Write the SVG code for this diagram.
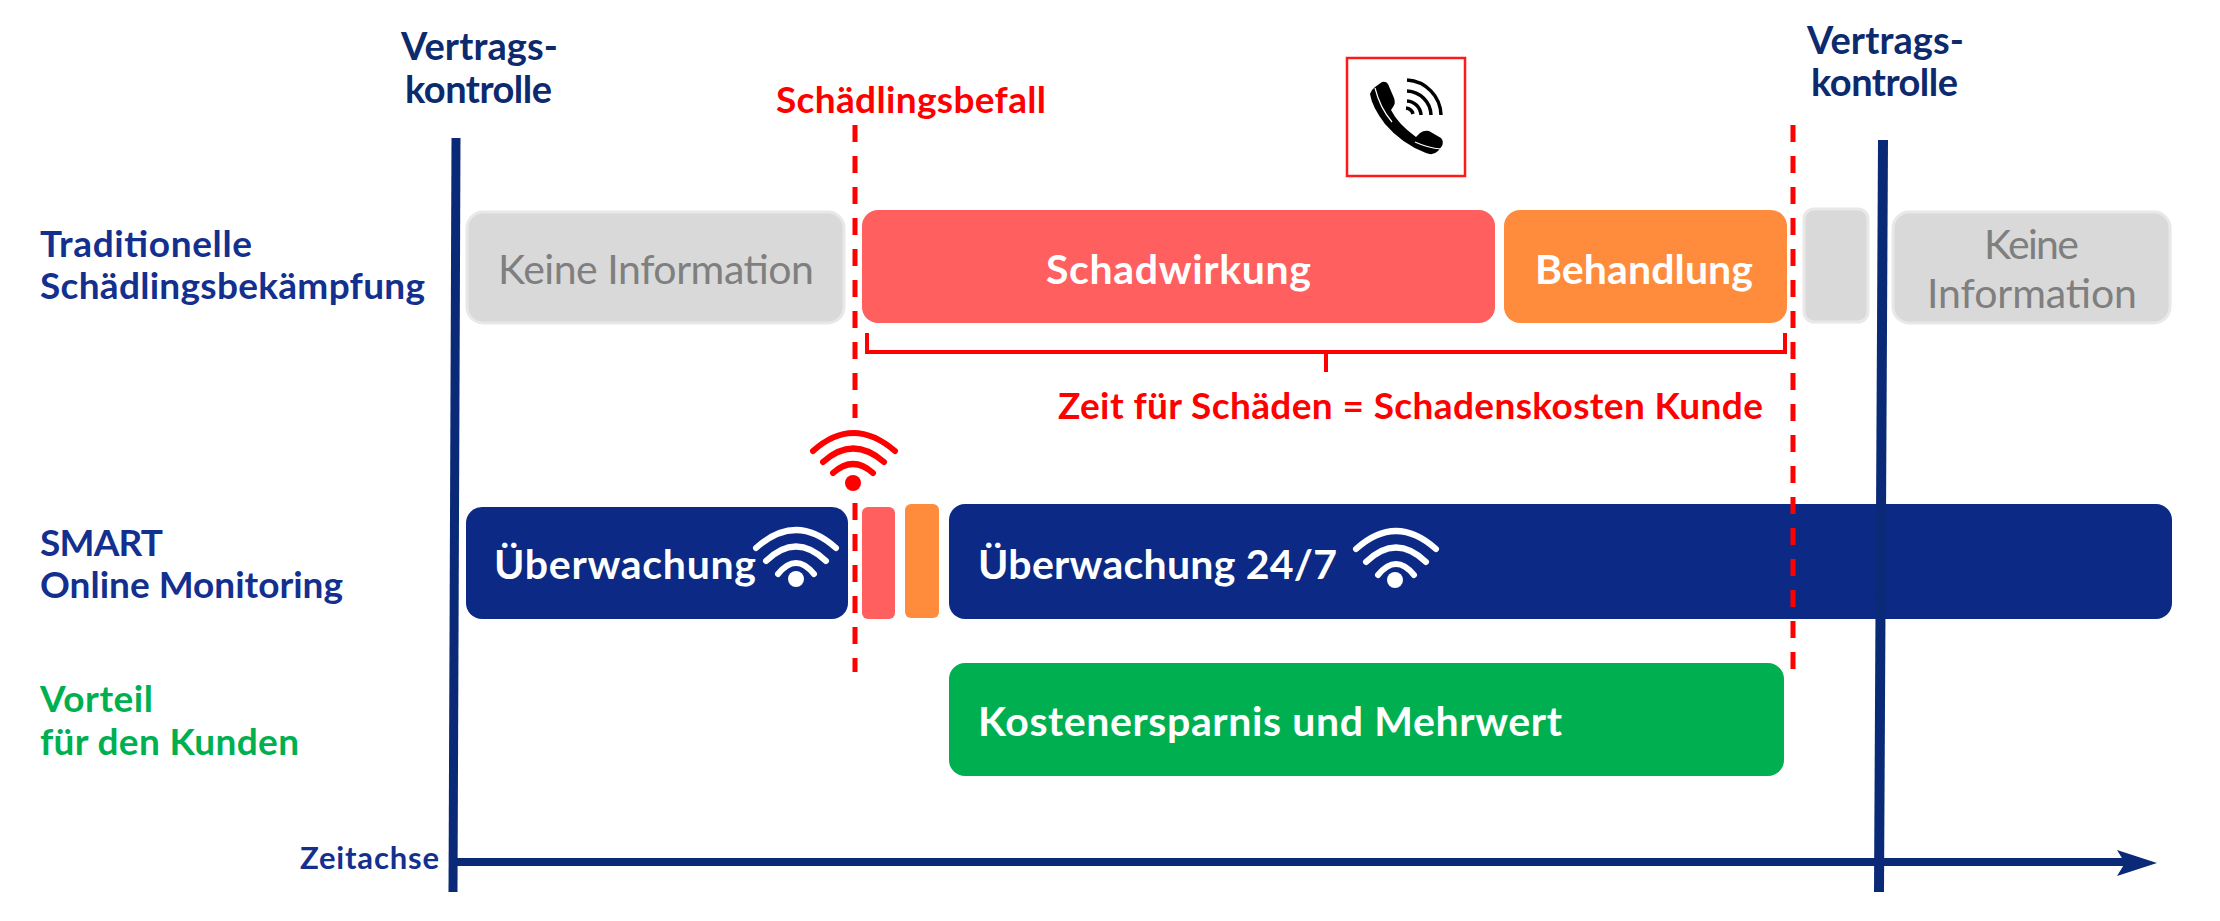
<svg xmlns="http://www.w3.org/2000/svg" width="2220" height="921" viewBox="0 0 2220 921">
<style>
text{font-family:"Lato","Liberation Sans",sans-serif;font-weight:700}
.lab{font-size:37px;fill:#14308f}
.grn{font-size:37px;fill:#00b050}
.vk{font-size:38px;fill:#0c2a6e}
.w{fill:#fff;font-size:41px}
.g{fill:#7f7f7f;font-size:41px;font-weight:400}
.r{fill:#ff0000;font-size:37px}
.dash{stroke:#ff0000;stroke-width:5;stroke-dasharray:17 14;fill:none}
.wifi{fill:none;stroke-linecap:round;stroke-width:6}
.gray{fill:#d9d9d9;stroke:#e8e8e8;stroke-width:3}
</style>
<rect width="2220" height="921" fill="#fff"/>
<g id="n-keine1"><rect class="gray" x="467" y="212" width="377" height="111" rx="16"/><text class="g" x="498" y="284" textLength="316">Keine Information</text></g>
<g id="n-schadwirkung"><rect x="862" y="210" width="633" height="113" rx="16" fill="#ff5f5f"/><text class="w" x="1046" y="284" textLength="265">Schadwirkung</text></g>
<g id="n-behandlung"><rect x="1504" y="210" width="283" height="113" rx="16" fill="#ff8c3c"/><text class="w" x="1535" y="284" textLength="218">Behandlung</text></g>
<g id="n-gray-small"><rect class="gray" x="1804" y="209" width="64" height="113" rx="10"/></g>
<g id="n-keine2"><rect class="gray" x="1893" y="212" width="277" height="111" rx="16"/><text class="g" x="1984" y="259" textLength="95">Keine</text><text class="g" x="1927" y="308" textLength="210">Information</text></g>
<g id="n-ueberwachung"><rect x="466" y="507" width="382" height="112" rx="16" fill="#0c2a85"/><text class="w" x="494" y="579" textLength="262">Überwachung</text>
<g class="wifi" stroke="#fff"><path d="M756 548Q796 512 836 548M766 561Q796 532 826 561M778 574Q796 552 814 574"/><circle cx="796" cy="579" r="8" fill="#fff" stroke="none"/></g></g>
<g id="n-red-small"><rect x="862" y="507" width="33" height="112" rx="6" fill="#ff5f5f"/></g>
<g id="n-orange-small"><rect x="905" y="504" width="34" height="114" rx="6" fill="#ff8c3c"/></g>
<g id="n-ueberwachung247"><rect x="949" y="504" width="1223" height="115" rx="16" fill="#0c2a85"/><text class="w" x="978" y="579" textLength="359">Überwachung 24/7</text>
<g class="wifi" stroke="#fff"><path d="M1356 549Q1396 513 1436 549M1366 562Q1396 533 1426 562M1378 575Q1396 553 1414 575"/><circle cx="1395" cy="580" r="8" fill="#fff" stroke="none"/></g></g>
<g id="n-kosten"><rect x="949" y="663" width="835" height="113" rx="16" fill="#00b050"/><text class="w" x="978" y="736" textLength="584">Kostenersparnis und Mehrwert</text></g>
<g id="n-labels">
<text class="lab" x="40" y="257" textLength="212">Traditionelle</text><text class="lab" x="40" y="299" textLength="385">Schädlingsbekämpfung</text>
<text class="lab" x="40" y="556" textLength="123">SMART</text><text class="lab" x="40" y="598" textLength="303">Online Monitoring</text>
<text class="grn" x="40" y="712" textLength="113">Vorteil</text><text class="grn" x="40" y="755" textLength="259">für den Kunden</text>
<text class="vk" x="401" y="60" textLength="157">Vertrags-</text><text class="vk" x="405" y="103" textLength="147">kontrolle</text>
<text class="vk" x="1807" y="54" textLength="157">Vertrags-</text><text class="vk" x="1811" y="96" textLength="147">kontrolle</text>
<text class="r" x="776" y="113" textLength="270">Schädlingsbefall</text>
<text class="r" x="1058" y="419" textLength="705">Zeit für Schäden = Schadenskosten Kunde</text>
<text x="300" y="869" font-size="31" fill="#14308f" textLength="139">Zeitachse</text>
</g>
<g id="n-phone"><rect x="1347" y="58" width="118" height="118" fill="#fff" stroke="#ff1a1a" stroke-width="2.5"/>
<path d="M1375 87L1382 82Q1386 81 1388 84L1394 98Q1396 103 1393 107L1391 110Q1398 124 1416 137L1420 133Q1424 130 1429 131L1441 138Q1444 141 1442 146L1438 151Q1433 156 1426 153Q1402 144 1385 124Q1372 107 1370 94Q1371 90 1375 87Z" fill="#000"/>
<path d="M1375 88Q1380 108 1392 122M1415 142Q1428 148 1441 149" fill="none" stroke="#fff" stroke-width="1.2"/>
<path d="M1407 80A36 36 0 0 1 1441 115M1407 91A25 25 0 0 1 1431 115M1407 101A15 15 0 0 1 1421 115M1406 108A8 8 0 0 1 1413 114" fill="none" stroke="#000" stroke-width="3.5"/></g>
<g id="connectors">
<path d="M456 138L453 892" stroke="#0a2a78" stroke-width="9" fill="none"/>
<path d="M1883 140L1879 892" stroke="#0a2a78" stroke-width="10" fill="none"/>
<path d="M453 862H2125" stroke="#0a2a78" stroke-width="8" fill="none"/>
<path d="M2157 863L2117 850L2125 863L2117 876Z" fill="#0a2a78"/>
<path class="dash" d="M855 125V418"/>
<path class="dash" d="M855 503V672"/>
<path class="dash" d="M1793 125V672"/>
<path d="M867 333V352H1785V333M1326 352V372" fill="none" stroke="#ff0000" stroke-width="4"/>
<g class="wifi" stroke="#ff0000"><path d="M813 451Q853 415 895 451M823 462Q853 435 884 462M833 473Q853 455 873 473"/><circle cx="853" cy="483" r="8" fill="#ff0000" stroke="none"/></g>
</g>
</svg>
